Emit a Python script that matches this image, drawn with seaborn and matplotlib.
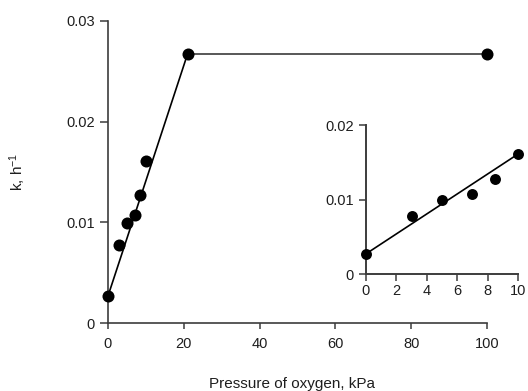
import matplotlib
matplotlib.use("Agg")
import matplotlib.pyplot as plt
import seaborn as sns
import pandas as pd

# Rate constant versus oxygen pressure
pressure = [0, 3, 5, 7, 8.5, 10, 21, 100]          # kPa
rate_k = [0.0027, 0.0078, 0.0099, 0.0107, 0.0127, 0.0161, 0.0267, 0.0267]  # h^-1

main_ticks_x = [0, 20, 40, 60, 80, 100]
main_ticks_y = [0, 0.01, 0.02, 0.03]
main_ticklabels_y = ["0", "0.01", "0.02", "0.03"]
inset_ticks_x = [0, 2, 4, 6, 8, 10]
inset_ticks_y = [0, 0.01, 0.02]
inset_ticklabels_y = ["0", "0.01", "0.02"]

sns.set_theme(style="ticks")
plt.rcParams["font.family"] = ["Liberation Sans", "DejaVu Sans"]
plt.rcParams["mathtext.default"] = "regular"

spine_col = "#3c3c3c"
text_col = "#1e1e1e"
tick_fs = 10.5

df = pd.DataFrame({"pressure": pressure, "k": rate_k})
low = df[df["pressure"] <= 10]

fig = plt.figure(figsize=(5.28, 3.91), dpi=100)
ax = fig.add_axes([0.2045, 0.1731, 0.7178, 0.774])

# rising segment (first point to saturation point), then plateau
rise = df.iloc[[0, 6]]
plateau = df.iloc[[6, 7]]
sns.lineplot(data=rise, x="pressure", y="k", ax=ax, color="black",
             linewidth=1.2, sort=False)
sns.lineplot(data=plateau, x="pressure", y="k", ax=ax, color="#4a4a4a",
             linewidth=1.3, sort=False)
sns.scatterplot(data=df, x="pressure", y="k", ax=ax, color="black", s=75,
                edgecolor="black", linewidth=0, zorder=5, clip_on=False)

ax.set_xlim(0, 100)
ax.set_ylim(0, 0.03)
ax.set_xticks(main_ticks_x)
ax.set_yticks(main_ticks_y)
ax.set_yticklabels(main_ticklabels_y)
ax.tick_params(axis="x", length=4, width=1.1, color=spine_col, pad=6,
               labelsize=tick_fs, labelcolor=text_col)
ax.tick_params(axis="y", length=6, width=1.1, color=spine_col, pad=3.5,
               labelsize=tick_fs, labelcolor=text_col)
for s in ("left", "bottom"):
    ax.spines[s].set_color(spine_col)
    ax.spines[s].set_linewidth(1.2)
sns.despine(ax=ax)
ax.set_xlabel("Pressure of oxygen, kPa", fontsize=11, color=text_col)
ax.set_ylabel("k, h$^{-1}$", fontsize=11, color=text_col)
ax.xaxis.set_label_coords(0.485, -0.178)
ax.yaxis.set_label_coords(-0.212, 0.5)

# inset: low-pressure region
ins = fig.add_axes([0.693, 0.2992, 0.288, 0.381])
line_ends = low.iloc[[0, -1]]
sns.lineplot(data=line_ends, x="pressure", y="k", ax=ins, color="black",
             linewidth=1.2, sort=False)
sns.scatterplot(data=low, x="pressure", y="k", ax=ins, color="black", s=62,
                edgecolor="black", linewidth=0, zorder=5, clip_on=False)
ins.set_xlim(0, 10)
ins.set_ylim(0, 0.02)
ins.set_xticks(inset_ticks_x)
ins.set_yticks(inset_ticks_y)
ins.set_yticklabels(inset_ticklabels_y)
ins.tick_params(axis="x", length=5, width=1.1, color=spine_col, pad=2,
                labelsize=tick_fs, labelcolor=text_col)
ins.tick_params(axis="y", length=5, width=1.1, color=spine_col, pad=3.5,
                labelsize=tick_fs, labelcolor=text_col)
for s in ("left", "bottom"):
    ins.spines[s].set_color(spine_col)
    ins.spines[s].set_linewidth(1.4)
sns.despine(ax=ins)
ins.set_xlabel("")
ins.set_ylabel("")
ins.patch.set_alpha(0)

fig.savefig("out.png", dpi=100, facecolor="white")
